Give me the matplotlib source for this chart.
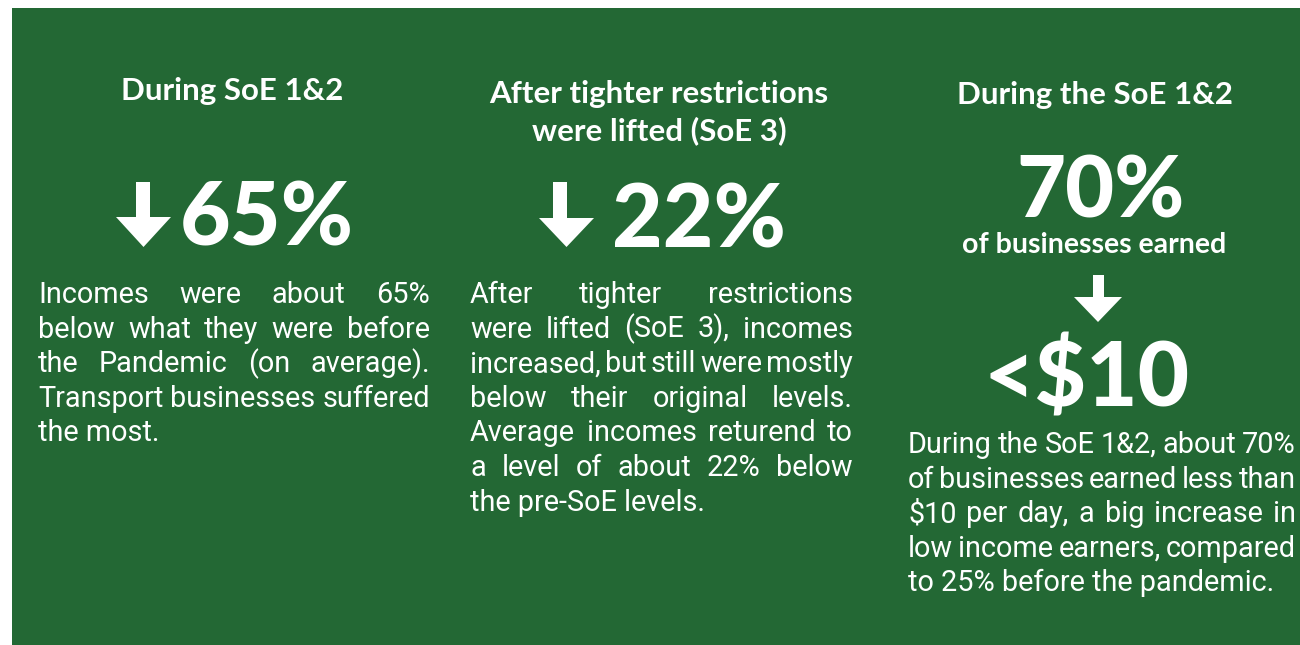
import matplotlib
matplotlib.use("Agg")
import matplotlib.pyplot as plt
from matplotlib.patches import Rectangle, Polygon

W, H = 1300, 645
BG = "#236834"
FG = "white"

# ---- content ----
headings = [
    ["During SoE 1&2"],
    ["After tighter restrictions", "were lifted (SoE 3)"],
    ["During the SoE 1&2"],
]
big_values = ["65%", "22%", "70%"]
sub_label = "of businesses earned"
threshold_value = "<$10"
paragraphs = [
    ["Incomes were about 65%",
     "below what they were before",
     "the Pandemic (on average).",
     "Transport businesses suffered",
     "the most."],
    ["After tighter restrictions",
     "were lifted (SoE 3), incomes",
     "increased, but still were mostly",
     "below their original levels.",
     "Average incomes returend to",
     "a level of about 22% below",
     "the pre-SoE levels."],
    ["During the SoE 1&2, about 70%",
     "of businesses earned less than",
     "$10 per day, a big increase in",
     "low income earners, compared",
     "to 25% before the pandemic."],
]

fig = plt.figure(figsize=(W / 100, H / 100), dpi=100)
fig.patch.set_facecolor("white")
ax = fig.add_axes([0, 0, 1, 1])
ax.set_xlim(0, W)
ax.set_ylim(H, 0)
ax.axis("off")

ax.add_patch(Rectangle((12, 8), W - 12, H - 8, facecolor=BG, edgecolor="none"))

HEAD_FONT = "Lato"
BODY_FONT = "Roboto"

# headings
head_x = [232, 659, 1095]
head_base = [[100], [103, 140], [104]]
for hx, lines, bases in zip(head_x, headings, head_base):
    for ln, b in zip(lines, bases):
        ax.text(hx, b, ln, ha="center", va="baseline", color=FG,
                fontsize=22.5, fontweight="bold", family=HEAD_FONT)

# arrows
def down_arrow(xl, xr, shaft_l, shaft_r, top, base, tip):
    xc = (xl + xr) / 2
    pts = [(shaft_l, top), (shaft_r, top), (shaft_r, base), (xr, base),
           (xc, tip), (xl, base), (shaft_l, base)]
    ax.add_patch(Polygon(pts, closed=True, facecolor=FG, edgecolor="none"))

down_arrow(116, 171, 136, 150, 182, 217, 247)
down_arrow(539, 594, 553, 567, 182, 218, 247)
down_arrow(1074, 1122, 1093, 1104, 275, 297, 322)

# big numbers
ax.text(180, 246, big_values[0], ha="left", va="baseline", color=FG,
        fontsize=63, fontweight="black", family=HEAD_FONT)
ax.text(612, 247, big_values[1], ha="left", va="baseline", color=FG,
        fontsize=63, fontweight="black", family=HEAD_FONT)
ax.text(1101, 218, big_values[2], ha="center", va="baseline", color=FG,
        fontsize=61, fontweight="black", family=HEAD_FONT)
ax.text(1094, 253, sub_label, ha="center", va="baseline", color=FG,
        fontsize=20.5, fontweight="bold", family=HEAD_FONT)
ax.text(1087, 406, threshold_value, ha="center", va="baseline", color=FG,
        fontsize=64, fontweight="black", family=HEAD_FONT)

# justified paragraphs
renderer = fig.canvas.get_renderer()
para_box = [(38, 430, 303), (470, 853, 303), (908, 1296, 453)]
LINE_H = 34.6
BODY_SIZE = 20.8

def width_of(t):
    return t.get_window_extent(renderer).width

for (x0, x1, b0), lines in zip(para_box, paragraphs):
    for i, ln in enumerate(lines):
        y = b0 + i * LINE_H
        last = (i == len(lines) - 1)
        if last:
            ax.text(x0, y, ln, ha="left", va="baseline", color=FG,
                    fontsize=BODY_SIZE, family=BODY_FONT)
            continue
        words = ln.split(" ")
        txts = [ax.text(0, y, w, ha="left", va="baseline", color=FG,
                        fontsize=BODY_SIZE, family=BODY_FONT) for w in words]
        widths = [width_of(t) for t in txts]
        gap = (x1 - x0 - sum(widths)) / max(len(words) - 1, 1)
        x = x0
        for t, wd in zip(txts, widths):
            t.set_x(x)
            x += wd + gap

fig.savefig("out.png", dpi=100, facecolor=fig.get_facecolor())
